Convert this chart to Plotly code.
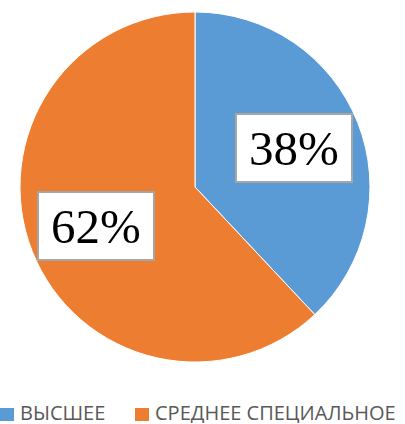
import numpy as np
import plotly.graph_objects as go

labels = ["ВЫСШЕЕ", "СРЕДНЕЕ СПЕЦИАЛЬНОЕ"]
values = [38, 62]
colors = ["#5B9BD5", "#ED7D31"]

W, H = 405, 424
cx, cy, R = 195, 187, 175

fig = go.Figure()

fig.add_trace(go.Pie(
    labels=labels,
    values=values,
    sort=False,
    direction="clockwise",
    rotation=0,
    textinfo="none",
    hoverinfo="label+percent",
    showlegend=False,
    marker=dict(colors=colors, line=dict(color="white", width=1)),
    domain=dict(x=[(cx - R) / W, (cx + R) / W],
                y=[1 - (cy + R) / H, 1 - (cy - R) / H])))

# percentage labels in white boxes, placed along each slice's mid angle
total = sum(values)
start = 0
for v in values:
    mid = (start + v / 2) / total * 2 * np.pi
    start += v
    px = cx + 0.61 * R * np.sin(mid)
    py = cy - 0.61 * R * np.cos(mid)
    fig.add_annotation(
        x=px / W, y=1 - py / H, xref="paper", yref="paper",
        xanchor="center", yanchor="middle",
        text=f"{round(v / total * 100)}%", showarrow=False,
        font=dict(family="Liberation Serif", size=49, color="black"),
        bgcolor="white", bordercolor="#A6A6A6", borderwidth=2,
        width=112, height=64)

# legend drawn by hand to match the office-style spacing
legend_x = [0, 135]
for lx, name, col in zip(legend_x, labels, colors):
    fig.add_shape(type="rect", xref="paper", yref="paper",
                  x0=lx / W, x1=(lx + 14) / W,
                  y0=1 - 421 / H, y1=1 - 408 / H,
                  fillcolor=col, line=dict(width=0))
    fig.add_annotation(
        x=(lx + 18) / W, y=1 - 412 / H, xref="paper", yref="paper",
        xanchor="left", yanchor="middle", showarrow=False, height=22,
        text=name, font=dict(family="Open Sans", size=20, color="#595959"))

fig.update_layout(
    width=W, height=H,
    margin=dict(l=0, r=0, t=0, b=0),
    paper_bgcolor="white",
    showlegend=False)

fig.write_html("out.html", config={"displayModeBar": False},
               post_script="document.body.style.margin='0';")
